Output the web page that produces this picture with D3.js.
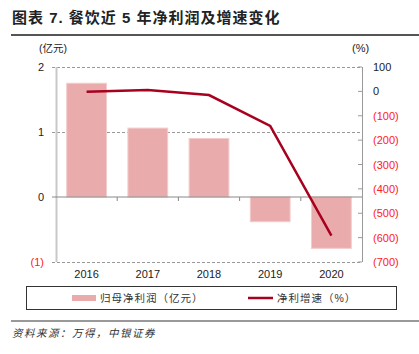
<!DOCTYPE html>
<html>
<head>
<meta charset="utf-8">
<script src="https://cdn.jsdelivr.net/npm/d3@7"></script>
<style>
body { margin: 0; background: #fff; }
text { font-family: "Liberation Sans", Arial, "Noto Sans CJK SC", sans-serif; }
</style>
</head>
<body>
<script>
const years = ['2016', '2017', '2018', '2019', '2020']
const profit = [1.75, 1.06, 0.90, -0.38, -0.79]
const growth = [-2, 6, -15, -142, -592]
const leftTicks = [2, 1, 0, -1]
const rightTicks = [100, 0, -100, -200, -300, -400, -500, -600, -700]

const W = 419, H = 354
const cjk = '"Noto Sans CJK SC", sans-serif'
const barColor = '#e9abab'
const lineColor = '#a8001f'
const red = '#ff2020'

const svg = d3.select('body').append('svg')
    .attr('width', W)
    .attr('height', H)

const x = d3.scaleBand().domain(years).range([56, 362]).paddingInner(0.35).paddingOuter(0.175)
const yL = d3.scaleLinear().domain([-1, 2]).range([262, 67])
const yR = d3.scaleLinear().domain([-700, 100]).range([262, 67])

const fmt = v => v < 0 ? '(' + Math.abs(v) + ')' : String(v)

// title
svg.append('text')
    .attr('x', 12).attr('y', 23)
    .attr('font-family', cjk)
    .attr('font-size', 15).attr('font-weight', 'bold')
    .attr('letter-spacing', 1)
    .attr('fill', '#222')
    .text('图表 7. 餐饮近 5 年净利润及增速变化')
svg.append('line')
    .attr('x1', 11).attr('x2', W).attr('y1', 35).attr('y2', 35)
    .attr('stroke', '#555').attr('stroke-width', 2)

// gridlines
svg.selectAll('.grid')
    .data(leftTicks.filter(d => d != 0))
    .enter().append('line')
    .attr('x1', 52).attr('x2', 362)
    .attr('y1', d => yL(d) + 0.5).attr('y2', d => yL(d) + 0.5)
    .attr('stroke', '#999').attr('stroke-width', 1)
    .attr('stroke-dasharray', '3,2')

// bars
svg.selectAll('.bar')
    .data(years)
    .enter().append('rect')
    .attr('x', d => x(d))
    .attr('width', x.bandwidth())
    .attr('y', (d, i) => Math.min(yL(profit[i]), yL(0)))
    .attr('height', (d, i) => Math.abs(yL(profit[i]) - yL(0)))
    .attr('fill', barColor)
    .attr('stroke', '#f3cccc').attr('stroke-width', 1)

// left axis line
svg.append('line')
    .attr('x1', 56.5).attr('x2', 56.5).attr('y1', 67).attr('y2', 262)
    .attr('stroke', '#c8c8c8').attr('stroke-width', 2)
// right axis line
svg.append('line')
    .attr('x1', 362.5).attr('x2', 362.5).attr('y1', 67).attr('y2', 262)
    .attr('stroke', '#999').attr('stroke-width', 1)

// zero line + category ticks
svg.append('line')
    .attr('x1', 52).attr('x2', 362).attr('y1', yL(0)).attr('y2', yL(0))
    .attr('stroke', '#888').attr('stroke-width', 1)
svg.selectAll('.xtick')
    .data(years.slice(1))
    .enter().append('line')
    .attr('x1', d => x(d) - x.step() * x.paddingInner() / 2)
    .attr('x2', d => x(d) - x.step() * x.paddingInner() / 2)
    .attr('y1', yL(0)).attr('y2', yL(0) + 4)
    .attr('stroke', '#888')

// left tick labels
svg.selectAll('.lt')
    .data(leftTicks)
    .enter().append('text')
    .attr('x', 44).attr('y', d => yL(d) + 4)
    .attr('text-anchor', 'end')
    .attr('font-size', 11)
    .attr('fill', d => d < 0 ? red : '#222')
    .text(fmt)

// right ticks and labels
svg.selectAll('.rtk')
    .data(rightTicks)
    .enter().append('line')
    .attr('x1', 358).attr('x2', 362)
    .attr('y1', d => yR(d)).attr('y2', d => yR(d))
    .attr('stroke', '#999')
svg.selectAll('.rt')
    .data(rightTicks)
    .enter().append('text')
    .attr('x', 373).attr('y', d => yR(d) + 4)
    .attr('font-size', 11)
    .attr('fill', d => d < 0 ? red : '#222')
    .text(fmt)

// unit labels
svg.append('text')
    .attr('x', 39).attr('y', 52)
    .attr('font-family', cjk).attr('font-size', 10.5).attr('fill', '#222')
    .text('(亿元)')
svg.append('text')
    .attr('x', 352).attr('y', 52)
    .attr('font-size', 11).attr('fill', '#222')
    .text('(%)')

// x labels
svg.selectAll('.xl')
    .data(years)
    .enter().append('text')
    .attr('x', d => x(d) + x.bandwidth() / 2)
    .attr('y', 278)
    .attr('text-anchor', 'middle')
    .attr('font-size', 11).attr('fill', '#222')
    .text(d => d)

// growth line
const line = d3.line()
    .x((d, i) => x(years[i]) + x.bandwidth() / 2)
    .y(d => yR(d))
svg.append('path')
    .datum(growth)
    .attr('d', line)
    .attr('fill', 'none')
    .attr('stroke', lineColor)
    .attr('stroke-width', 2.5)

// legend
svg.append('rect')
    .attr('x', 26.5).attr('y', 286.5).attr('width', 370).attr('height', 23)
    .attr('fill', 'none').attr('stroke', '#333').attr('stroke-width', 1)
svg.append('rect')
    .attr('x', 72).attr('y', 295).attr('width', 24).attr('height', 6)
    .attr('fill', barColor)
svg.append('text')
    .attr('x', 100).attr('y', 302)
    .attr('font-family', cjk).attr('font-size', 10.5).attr('fill', '#333')
    .attr('letter-spacing', 1)
    .text('归母净利润（亿元）')
svg.append('line')
    .attr('x1', 248).attr('x2', 273).attr('y1', 298).attr('y2', 298)
    .attr('stroke', lineColor).attr('stroke-width', 2.5)
svg.append('text')
    .attr('x', 277).attr('y', 302)
    .attr('font-family', cjk).attr('font-size', 10.5).attr('fill', '#333')
    .attr('letter-spacing', 1)
    .text('净利增速（%）')

// source
svg.append('line')
    .attr('x1', 11).attr('x2', W).attr('y1', 321).attr('y2', 321)
    .attr('stroke', '#777').attr('stroke-width', 1.5)
svg.append('text')
    .attr('x', 12).attr('y', 337)
    .attr('font-family', cjk).attr('font-size', 10.5)
    .attr('font-style', 'italic').attr('fill', '#333')
    .attr('letter-spacing', 1.5)
    .text('资料来源：万得，中银证券')
</script>
</body>
</html>
